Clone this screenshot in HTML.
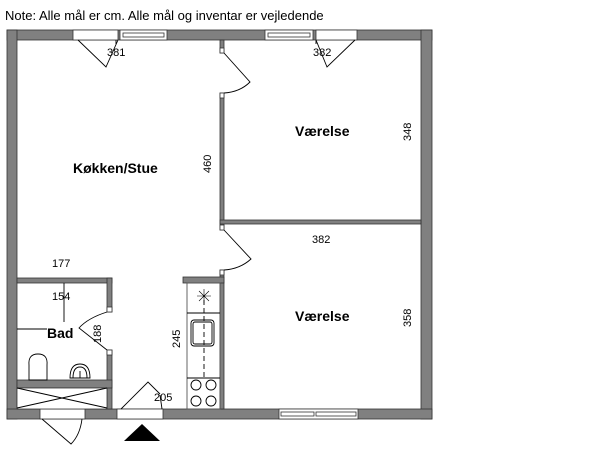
<!DOCTYPE html>
<html><head><style>body{margin:0;background:#fff}svg{display:block}text{font-family:"Liberation Sans",sans-serif;fill:#000}</style></head><body>
<svg width="600" height="452" viewBox="0 0 600 452" xmlns="http://www.w3.org/2000/svg">
<text x="5" y="20" font-size="13">Note: Alle mål er cm. Alle mål og inventar er vejledende</text>
<g fill="#808080" stroke="#333" stroke-width="0.8">
<!-- outer walls -->
<rect x="7" y="30" width="425" height="10"/>
<rect x="7" y="30" width="10" height="389"/>
<rect x="421" y="30" width="11" height="389"/>
<rect x="7" y="409" width="425" height="10"/>
<!-- interior walls -->
<rect x="220" y="40" width="4" height="13"/>
<rect x="220" y="93" width="4" height="137"/>
<rect x="220" y="220" width="201" height="4"/>
<rect x="220" y="270" width="4" height="139"/>
<rect x="183" y="277" width="41" height="6"/>
<rect x="17" y="278" width="95" height="5"/>
<rect x="107" y="278" width="5" height="34"/>
<rect x="107" y="350" width="5" height="59"/>
<rect x="17" y="380" width="95" height="8"/>
</g>
<!-- windows/doors openings in walls -->
<g fill="#fff" stroke="#333" stroke-width="0.8">
<rect x="73" y="30" width="45" height="10"/>
<rect x="120" y="30" width="47" height="10"/>
<rect x="123" y="33" width="41" height="4"/>
<rect x="265" y="30" width="48" height="10"/>
<rect x="268" y="33" width="42" height="4"/>
<rect x="316" y="30" width="41" height="10"/>
<rect x="279" y="409" width="79" height="10"/>
<rect x="281" y="412" width="33" height="4"/><rect x="316" y="412" width="40" height="4"/>
<rect x="40" y="409" width="45" height="10"/>
<rect x="117" y="409" width="46" height="10"/>
<rect x="220" y="48" width="4" height="5"/><rect x="220" y="93" width="4" height="5"/>
<rect x="220" y="225" width="4" height="5"/><rect x="220" y="270" width="4" height="5"/>
<rect x="107" y="307" width="5" height="5"/><rect x="107" y="350" width="5" height="5"/>
<rect x="17" y="388" width="90" height="21"/>
</g>
<g fill="none" stroke="#000" stroke-width="0.9">
<path d="M78 40 L106 67 L118 40"/><line x1="116" y1="40" x2="116" y2="44"/>
<path d="M316 40 L327 67 L355 40"/><line x1="316" y1="40" x2="316" y2="44"/>
<path d="M224 53 L250 82 Q240 92 224 93"/>
<path d="M224 230 L251 259 Q240 269 224 270"/>
<path d="M107 312 Q88 318 79 328 L107 350"/>
<path d="M17 388 L107 408 M17 408 L107 388"/>
<path d="M42 419 L71 444 Q80 435 82 419"/>
<path d="M121 409 L148 382 L160 394"/>
<line x1="160" y1="395" x2="162" y2="409"/>
<!-- kitchen -->
<rect x="187" y="283" width="33" height="126" stroke="#555"/>
<line x1="187" y1="313" x2="220" y2="313"/>
<line x1="187" y1="378" x2="220" y2="378"/>
<rect x="191" y="320" width="23" height="26" rx="3"/>
<rect x="193" y="322" width="19" height="22" rx="2"/>
<line x1="204" y1="300" x2="204" y2="378" stroke-dasharray="5,3"/>
<path d="M197 296 L211 296 M204 289 L204 303 M199 291 L209 301 M209 291 L199 301" stroke-width="0.6"/>
<circle cx="196" cy="385" r="5"/><circle cx="211" cy="385" r="5"/>
<circle cx="196" cy="401" r="5"/><circle cx="211" cy="401" r="5"/>
<!-- bath -->
<line x1="64" y1="283" x2="64" y2="322"/>
<line x1="17" y1="329" x2="47" y2="329"/>
<path d="M29 380 L29 365 Q28 354 38 354 Q48 354 47 365 L47 380 Z"/>
<path d="M70 378 Q70 364 80 364 Q90 364 90 378 Z"/><path d="M73 378 Q73 367 80 367 Q87 367 87 378"/>
<line x1="80" y1="371" x2="80" y2="378"/>
</g>
<polygon points="124,441 142,424 160,441" fill="#000"/>
<g font-size="11">
<text x="107" y="56">381</text><text x="313" y="56">382</text>
<text x="312" y="243">382</text><text x="52" y="267">177</text>
<text x="52" y="300">154</text><text x="154" y="401">205</text>
<text transform="translate(211,173) rotate(-90)">460</text>
<text transform="translate(411,141) rotate(-90)">348</text>
<text transform="translate(411,327) rotate(-90)">358</text>
<text transform="translate(101,343) rotate(-90)">188</text>
<text transform="translate(180,348) rotate(-90)">245</text>
</g>
<g font-size="14" font-weight="bold">
<text x="73" y="173">Køkken/Stue</text>
<text x="295" y="136">Værelse</text>
<text x="295" y="321">Værelse</text>
<text x="47" y="338">Bad</text>
</g>
</svg>
</body></html>
